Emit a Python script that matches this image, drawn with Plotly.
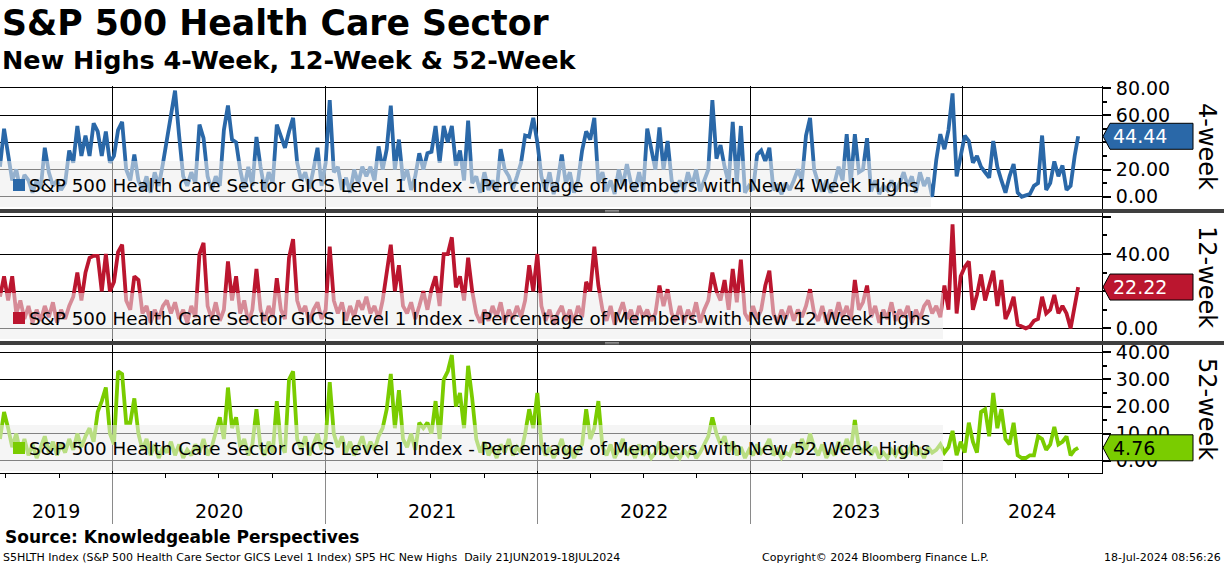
import pandas as pd
import plotly.graph_objects as go

# ---------------- data (weekly readings, last point = 18 Jul 2024) ----------------
dates = list(pd.date_range("2019-06-21", "2024-07-12", freq="7D").strftime("%Y-%m-%d")) + ["2024-07-18"]

new_highs_4w = [
    22, 50, 31, 12, 20, 5, 16, 12, 3, 12,
    6, 36, 18, 8, 12, 5, 10, 34, 25, 52,
    30, 45, 30, 54, 48, 30, 48, 25, 30, 49,
    55, 20, 12, 31, 12, 5, 15, 3, 18, 8,
    24, 43, 58, 78, 45, 15, 8, 18, 10, 53,
    43, 15, 5, 15, 8, 49, 67, 42, 40, 20,
    6, 22, 8, 44, 22, 5, 18, 10, 53, 44,
    36, 48, 58, 25, 12, 18, 6, 20, 36, 8,
    25, 71, 18, 22, 5, 14, 3, 20, 10, 22,
    15, 22, 12, 37, 20, 35, 67, 20, 42, 12,
    20, 5, 15, 32, 20, 32, 33, 52, 25, 52,
    40, 52, 23, 34, 12, 56, 10, 15, 3, 18,
    5, 12, 4, 35, 20, 15, 6, 15, 25, 45,
    44, 58, 40, 15, 4, 18, 2, 12, 31, 10,
    18, 3, 12, 34, 48, 42, 58, 10, 18, 4,
    12, 2, 20, 8, 24, 10, 5, 18, 4, 50,
    35, 20, 51, 20, 41, 12, 3, 12, 5, 18,
    8, 20, 4, 12, 20, 71, 28, 38, 22, 10,
    55, 10, 52, 3, 8, 5, 31, 34, 26, 36,
    5, 8, 2, 10, 5, 12, 20, 12, 45, 58,
    20, 10, 4, 12, 3, 10, 22, 12, 46, 10,
    46, 18, 20, 43, 4, 12, 2, 8, 5, 12,
    4, 10, 18, 8, 15, 3, 18, 8, 14, 0,
    27, 46, 35, 49, 76, 15, 30, 45, 41, 25,
    30, 22, 18, 14, 41, 22, 12, 3, 15, 24,
    3, 0, 1, 2, 8, 10, 45, 5, 10, 26,
    15, 23, 5, 8, 30,
    44.44,
]

new_highs_12w = [
    17, 28, 15, 28, 8, 15, 5, 12, 3, 10,
    4, 12, 6, 14, 3, 10, 5, 12, 17, 30,
    15, 30, 38, 39, 39, 20, 40, 20, 25, 41,
    45, 15, 10, 28, 26, 8, 12, 3, 10, 5,
    12, 15, 8, 14, 5, 10, 3, 12, 6, 40,
    46, 12, 5, 14, 4, 10, 36, 15, 28, 8,
    15, 3, 10, 32, 10, 4, 12, 6, 27, 10,
    5, 38, 48, 15, 8, 12, 3, 10, 14, 5,
    10, 44, 15, 8, 14, 4, 12, 6, 15, 10,
    17, 8, 12, 5, 15, 29, 45, 20, 34, 12,
    8, 14, 5, 12, 20, 10, 21, 28, 12, 40,
    40, 49, 22, 28, 15, 38, 20, 8, 3, 10,
    4, 12, 6, 14, 3, 10, 5, 12, 6, 15,
    34, 20, 40, 12, 4, 10, 2, 8, 12, 4,
    10, 3, 12, 6, 25, 20, 44, 23, 10, 4,
    12, 2, 8, 14, 5, 10, 3, 12, 6, 10,
    4, 8, 23, 12, 21, 8, 4, 12, 3, 10,
    5, 14, 3, 10, 15, 30, 20, 15, 26, 10,
    32, 14, 37, 8, 4, 12, 5, 10, 23, 31,
    8, 3, 10, 5, 12, 4, 10, 6, 12, 21,
    8, 4, 12, 3, 10, 5, 14, 6, 12, 4,
    26, 10, 14, 23, 6, 12, 3, 10, 5, 14,
    4, 10, 6, 12, 3, 10, 5, 12, 15, 8,
    12, 6, 23, 10, 56, 8, 28, 33, 36, 10,
    18, 29, 15, 24, 31, 12, 26, 5, 10, 17,
    2, 1, 0, 1, 4, 5, 17, 8, 10, 18,
    8, 12, 8, 0, 12,
    22.22,
]

new_highs_52w = [
    8, 18, 12, 5, 10, 3, 8, 2, 6, 1,
    5, 9, 3, 7, 2, 6, 3, 8, 4, 10,
    5, 9, 12, 7, 18, 22, 27, 10, 6, 33,
    32, 14, 14, 23, 10, 4, 8, 2, 6, 1,
    5, 3, 7, 2, 6, 1, 4, 2, 6, 3,
    8, 2, 5, 10, 16, 8, 27, 12, 16, 5,
    8, 2, 6, 19, 5, 2, 7, 3, 22, 6,
    3, 30, 33, 8, 4, 9, 2, 6, 10, 4,
    8, 29, 10, 5, 9, 3, 7, 2, 5, 9,
    3, 7, 4, 9, 12, 19, 32, 12, 26, 8,
    5, 10, 4, 14, 12, 14, 10, 22, 8, 30,
    33, 39, 20, 25, 12, 35, 23, 8, 3, 7,
    2, 5, 1, 6, 3, 8, 2, 5, 3, 10,
    19, 12, 25, 6, 2, 5, 1, 4, 8, 2,
    5, 1, 4, 6, 19, 8, 12, 22, 5, 2,
    6, 1, 4, 8, 2, 5, 1, 6, 2, 4,
    1, 3, 7, 2, 5, 1, 3, 1, 4, 2,
    5, 1, 3, 6, 9, 16, 10, 6, 9, 3,
    7, 2, 5, 1, 4, 2, 6, 3, 5, 8,
    2, 4, 1, 3, 2, 6, 3, 8, 4, 10,
    5, 2, 6, 1, 4, 2, 7, 3, 8, 4,
    15, 5, 3, 7, 2, 5, 1, 3, 1, 4,
    2, 5, 1, 3, 6, 2, 4, 1, 5, 3,
    4, 6, 3, 5, 11, 2, 7, 3, 14, 7,
    3, 18, 19, 9, 25, 12, 19, 8, 6, 14,
    2, 1, 1, 2, 2, 9, 8, 4, 6, 12.5,
    6, 7, 9, 2, 4,
    4.76,
]

assert len(dates) == len(new_highs_4w) == len(new_highs_12w) == len(new_highs_52w)

series_names = [
    "S&P 500 Health Care Sector GICS Level 1 Index - Percentage of Members with New 4 Week Highs",
    "S&P 500 Health Care Sector GICS Level 1 Index - Percentage of Members with New 12 Week Highs",
    "S&P 500 Health Care Sector GICS Level 1 Index - Percentage of Members with New 52 Week Highs",
]
panel_labels = ["4-week", "12-week", "52-week"]
y_tickvals = [[0, 20, 40, 60, 80], [0, 20, 40, 60], [0, 10, 20, 30, 40]]
y_ticktext = [["0.00", "20.00", "", "60.00", "80.00"],
              ["0.00", "", "40.00", ""],
              ["0.00", "10.00", "20.00", "30.00", "40.00"]]
year_starts = ["2020-01-01", "2021-01-01", "2022-01-01", "2023-01-01", "2024-01-01"]
year_labels = ["2019", "2020", "2021", "2022", "2023", "2024"]
year_label_dates = ["2019-09-26", "2020-07-02", "2021-07-02", "2022-07-02", "2023-07-02", "2024-04-30"]

# ---------------- styling / geometry ----------------
W, H = 1224, 566
ML, MR, MT, MB = 0, 122, 86, 93
PW = W - ML - MR          # plot width in px
PH = H - MT - MB          # plot height in px
FONT = "DejaVu Sans"

def px_x(p):
    return (p - ML) / PW

def px_y(p):
    return (H - MB - p) / PH

colors = ["#2a68a8", "#bb162f", "#7acc00"]
tag_text_colors = ["white", "white", "black"]
domains = [[px_y(209), px_y(86)], [px_y(341), px_y(213)], [0.0, px_y(345)]]
yranges = [[-9.0, 81.4], [-6.84, 62.1], [-4.54, 42.7]]
minor_dt = [10, 10, 5]
legend_box = [(161, 207, 931), (293, 339, 943), (425, 471, 943)]  # top px, bottom px, right px
legend_text_y = [185, 318, 448]
label_center_y = [146, 277, 409]
x_range = ["2019-06-21", "2024-08-28"]

series = [new_highs_4w, new_highs_12w, new_highs_52w]

fig = go.Figure()
for k in range(3):
    fig.add_trace(go.Scatter(
        x=dates, y=series[k], mode="lines",
        line=dict(color=colors[k], width=3.8),
        xaxis="x" if k == 0 else f"x{k+1}",
        yaxis="y" if k == 0 else f"y{k+1}",
        showlegend=False, hoverinfo="skip",
    ))

layout = dict(
    width=W, height=H,
    margin=dict(l=ML, r=MR, t=MT, b=MB),
    paper_bgcolor="white", plot_bgcolor="white",
    font=dict(family=FONT, color="black"),
    showlegend=False,
)

for k in range(3):
    xa = "xaxis" if k == 0 else f"xaxis{k+1}"
    ya = "yaxis" if k == 0 else f"yaxis{k+1}"
    xname = "x" if k == 0 else f"x{k+1}"
    yname = "y" if k == 0 else f"y{k+1}"
    xdict = dict(
        domain=[0, 1], anchor=yname, range=x_range, type="date",
        tickmode="array", tickvals=year_starts, showticklabels=False,
        showgrid=True, gridcolor="black", gridwidth=1, zeroline=False,
        ticks="", showline=False, fixedrange=True,
    )
    if k > 0:
        xdict["matches"] = "x"
    if k == 2:
        xdict.update(
            showline=True, linecolor="black", linewidth=1,
            ticks="outside", ticklen=50, tickcolor="#8a8a8a", tickwidth=1,
            minor=dict(ticks="outside", ticklen=4, tickcolor="black",
                       tick0="2019-07-01", dtick="M3", showgrid=False),
        )
    layout[xa] = xdict
    layout[ya] = dict(
        domain=domains[k], anchor=xname, side="right", range=yranges[k],
        tickmode="array", tickvals=y_tickvals[k], ticktext=y_ticktext[k],
        showgrid=True, gridcolor="black", gridwidth=1, zeroline=False,
        showline=True, linecolor="black", linewidth=1,
        ticks="outside", ticklen=8, tickwidth=1.5, tickcolor="black",
        tickfont=dict(family=FONT, size=19, color="black"),
        ticklabelstandoff=1,
        minor=dict(ticks="outside", ticklen=4, tickcolor="black",
                   tick0=0, dtick=minor_dt[k], showgrid=False),
        fixedrange=True,
    )

shapes = []
annotations = []

def val_to_paper(k, v):
    r0, r1 = yranges[k]
    d0, d1 = domains[k]
    return d0 + (v - r0) / (r1 - r0) * (d1 - d0)

for k in range(3):
    top, bot, right = legend_box[k]
    # translucent legend panel (lightens the line behind it)
    shapes.append(dict(type="rect", xref="paper", yref="paper", layer="above",
                       x0=px_x(0), x1=px_x(right), y0=px_y(bot), y1=px_y(top),
                       fillcolor="rgba(236,236,236,0.55)", line=dict(width=0)))
    cy = legend_text_y[k]
    shapes.append(dict(type="rect", xref="paper", yref="paper", layer="above",
                       x0=px_x(13), x1=px_x(25), y0=px_y(cy + 6), y1=px_y(cy - 6),
                       fillcolor=colors[k], line=dict(width=0)))
    annotations.append(dict(text=series_names[k], xref="paper", yref="paper",
                            x=px_x(27), y=px_y(cy), xanchor="left", yanchor="middle",
                            showarrow=False, font=dict(family=FONT, size=18.3, color="black")))
    # last-value tag
    last = series[k][-1]
    yc = val_to_paper(k, last)
    hh = 13 / PH
    path = (f"M {px_x(1103)},{yc} L {px_x(1110)},{yc + hh} L {px_x(1193)},{yc + hh} "
            f"L {px_x(1193)},{yc - hh} L {px_x(1110)},{yc - hh} Z")
    shapes.append(dict(type="path", xref="paper", yref="paper", layer="above", path=path,
                       fillcolor=colors[k], line=dict(color="black", width=1)))
    annotations.append(dict(text=f"{last:.2f}", xref="paper", yref="paper",
                            x=px_x(1111), y=yc, xanchor="left", yanchor="middle",
                            showarrow=False,
                            font=dict(family=FONT, size=19, color=tag_text_colors[k])))
    # panel label
    annotations.append(dict(text=panel_labels[k], xref="paper", yref="paper",
                            x=px_x(1207), y=px_y(label_center_y[k]), textangle=90,
                            xanchor="center", yanchor="middle", showarrow=False,
                            font=dict(family=FONT, size=24, color="black")))

# panel separators
for top_px in (209, 341):
    shapes.append(dict(type="rect", xref="paper", yref="paper", layer="above",
                       x0=px_x(0), x1=px_x(W), y0=px_y(top_px + 4), y1=px_y(top_px),
                       fillcolor="#3f3f3f", line=dict(width=0)))
    for dy in (1.5, 2.8):
        shapes.append(dict(type="line", xref="paper", yref="paper", layer="above",
                           x0=px_x(605), x1=px_x(619), y0=px_y(top_px + dy), y1=px_y(top_px + dy),
                           line=dict(color="#a0a0a0", width=0.8)))

# year labels
for lab, d in zip(year_labels, year_label_dates):
    annotations.append(dict(text=lab, xref="x3", yref="paper", x=d, y=px_y(511),
                            xanchor="center", yanchor="middle", showarrow=False,
                            font=dict(family=FONT, size=19, color="black")))

# titles and footer
annotations += [
    dict(text="<b>S&P 500 Health Care Sector</b>", xref="paper", yref="paper",
         x=px_x(0), y=px_y(23), xanchor="left", yanchor="middle", showarrow=False,
         font=dict(family=FONT, size=34.7, color="black")),
    dict(text="<b>New Highs 4-Week, 12-Week & 52-Week</b>", xref="paper", yref="paper",
         x=px_x(0), y=px_y(60), xanchor="left", yanchor="middle", showarrow=False,
         font=dict(family=FONT, size=25.5, color="black")),
    dict(text="<b>Source: Knowledgeable Perspectives</b>", xref="paper", yref="paper",
         x=px_x(3), y=px_y(537), xanchor="left", yanchor="middle", showarrow=False,
         font=dict(family=FONT, size=17, color="black")),
    dict(text="S5HLTH Index (S&P 500 Health Care Sector GICS Level 1 Index) SP5 HC New Highs  Daily 21JUN2019-18JUL2024",
         xref="paper", yref="paper", x=px_x(1), y=px_y(557), xanchor="left", yanchor="middle",
         showarrow=False, font=dict(family=FONT, size=11, color="black")),
    dict(text="Copyright© 2024 Bloomberg Finance L.P.", xref="paper", yref="paper",
         x=px_x(760), y=px_y(557), xanchor="left", yanchor="middle", showarrow=False,
         font=dict(family=FONT, size=11, color="black")),
    dict(text="18-Jul-2024 08:56:26", xref="paper", yref="paper",
         x=px_x(1223), y=px_y(557), xanchor="right", yanchor="middle", showarrow=False,
         font=dict(family=FONT, size=11, color="black")),
]

layout["shapes"] = shapes
layout["annotations"] = annotations
fig.update_layout(**layout)

fig.write_html("out.html", config={"displayModeBar": False},
               post_script="document.body.style.margin='0';document.body.style.overflow='hidden';")
